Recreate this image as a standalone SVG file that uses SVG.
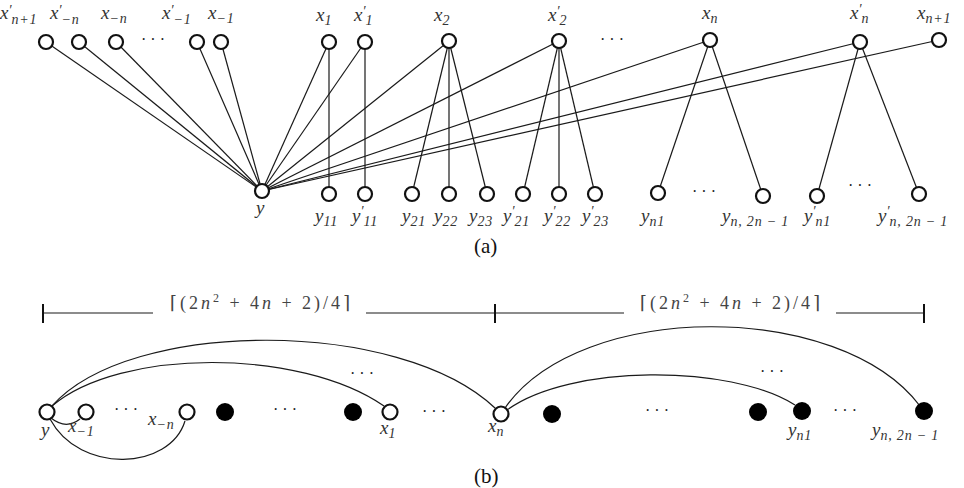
<svg xmlns="http://www.w3.org/2000/svg" width="964" height="488" viewBox="0 0 964 488">
<style>
.e{stroke:#1a1a1a;stroke-width:1.2;fill:none}
.o{fill:#fff;stroke:#111;stroke-width:2.2}
.f{fill:#000}
.t{font-family:"Liberation Serif",serif;font-style:italic;font-size:19px;fill:#333}
.s{font-size:14px;letter-spacing:0.8px}
.p{font-size:14px}
.d{font-family:"Liberation Serif",serif;font-size:16px;fill:#222;letter-spacing:4px}
.c{font-family:"Liberation Serif",serif;font-size:21px;fill:#111}
.m{font-family:"Liberation Serif","DejaVu Serif",serif;font-size:18px;fill:#444}
</style>
<rect width="964" height="488" fill="#fff"/>
<g id="connectors">
<line class="e" x1="262" y1="191" x2="46" y2="42"/>
<line class="e" x1="262" y1="191" x2="79" y2="42"/>
<line class="e" x1="262" y1="191" x2="116" y2="42"/>
<line class="e" x1="262" y1="191" x2="197" y2="42"/>
<line class="e" x1="262" y1="191" x2="221" y2="42"/>
<line class="e" x1="262" y1="191" x2="329" y2="42"/>
<line class="e" x1="262" y1="191" x2="365" y2="42"/>
<line class="e" x1="262" y1="191" x2="449" y2="41"/>
<line class="e" x1="262" y1="191" x2="559" y2="41"/>
<line class="e" x1="262" y1="191" x2="710" y2="40"/>
<line class="e" x1="262" y1="191" x2="860" y2="42"/>
<line class="e" x1="262" y1="191" x2="939" y2="40"/>
<line class="e" x1="329" y1="42" x2="329" y2="194"/>
<line class="e" x1="365" y1="42" x2="365" y2="194"/>
<line class="e" x1="449" y1="41" x2="412" y2="194"/>
<line class="e" x1="449" y1="41" x2="449" y2="194"/>
<line class="e" x1="449" y1="41" x2="487" y2="194"/>
<line class="e" x1="559" y1="41" x2="523" y2="194"/>
<line class="e" x1="559" y1="41" x2="559" y2="194"/>
<line class="e" x1="559" y1="41" x2="595" y2="194"/>
<line class="e" x1="710" y1="40" x2="658" y2="193"/>
<line class="e" x1="710" y1="40" x2="763" y2="196"/>
<line class="e" x1="860" y1="42" x2="817" y2="196"/>
<line class="e" x1="860" y1="42" x2="919" y2="194"/>
<path class="e" d="M52,406 C120,348 300,348 384,406"/>
<path class="e" d="M52,406 C130,318 400,318 495,408"/>
<path class="e" d="M505,408 C580,300 840,300 920,406"/>
<path class="e" d="M507,410 C570,364 730,364 795,405"/>
<path class="e" d="M51,418 Q66,430 80,419"/>
<path class="e" d="M50,419 C80,475 170,470 185,421"/>
</g>
<g id="nodes-a-top">
<g id="xp-n1"><circle class="o" cx="46" cy="42" r="7"/><text class="t" x="0" y="19">x<tspan class="p" dy="-4">′</tspan><tspan class="s" dy="9">n+1</tspan></text></g>
<g id="xp-mn"><circle class="o" cx="79" cy="42" r="7"/><text class="t" x="50" y="19">x<tspan class="p" dy="-4">′</tspan><tspan class="s" dy="9">−n</tspan></text></g>
<g id="x-mn"><circle class="o" cx="116" cy="42" r="7"/><text class="t" x="101" y="19">x<tspan class="s" dy="4">−n</tspan></text></g>
<text class="d" x="141" y="45">···</text>
<g id="xp-m1"><circle class="o" cx="197" cy="42" r="7"/><text class="t" x="162" y="19">x<tspan class="p" dy="-4">′</tspan><tspan class="s" dy="9">−1</tspan></text></g>
<g id="x-m1"><circle class="o" cx="221" cy="42" r="7"/><text class="t" x="208" y="19">x<tspan class="s" dy="4">−1</tspan></text></g>
<g id="x1"><circle class="o" cx="329" cy="42" r="7"/><text class="t" x="316" y="21">x<tspan class="s" dy="4">1</tspan></text></g>
<g id="xp1"><circle class="o" cx="365" cy="42" r="7"/><text class="t" x="354" y="21">x<tspan class="p" dy="-5">′</tspan><tspan class="s" dy="9">1</tspan></text></g>
<g id="x2"><circle class="o" cx="449" cy="41" r="7"/><text class="t" x="434" y="21">x<tspan class="s" dy="4">2</tspan></text></g>
<g id="xp2"><circle class="o" cx="559" cy="41" r="7"/><text class="t" x="548" y="21">x<tspan class="p" dy="-5">′</tspan><tspan class="s" dy="9">2</tspan></text></g>
<text class="d" x="600" y="45">···</text>
<g id="xn"><circle class="o" cx="710" cy="40" r="7"/><text class="t" x="702" y="19">x<tspan class="s" dy="4">n</tspan></text></g>
<g id="xpn"><circle class="o" cx="860" cy="42" r="7"/><text class="t" x="850" y="19">x<tspan class="p" dy="-5">′</tspan><tspan class="s" dy="9">n</tspan></text></g>
<g id="x-n1"><circle class="o" cx="939" cy="40" r="7"/><text class="t" x="917" y="19">x<tspan class="s" dy="4">n+1</tspan></text></g>
</g>
<g id="nodes-a-bottom">
<g id="y"><circle class="o" cx="262" cy="191" r="7"/><text class="t" x="256" y="214">y</text></g>
<g id="y11"><circle class="o" cx="329" cy="194" r="7"/><text class="t" x="315" y="222">y<tspan class="s" dy="4">11</tspan></text></g>
<g id="yp11"><circle class="o" cx="365" cy="194" r="7"/><text class="t" x="352" y="222">y<tspan class="p" dy="-6">′</tspan><tspan class="s" dy="10">11</tspan></text></g>
<g id="y21"><circle class="o" cx="412" cy="194" r="7"/><text class="t" x="402" y="222">y<tspan class="s" dy="4">21</tspan></text></g>
<g id="y22"><circle class="o" cx="449" cy="194" r="7"/><text class="t" x="434" y="222">y<tspan class="s" dy="4">22</tspan></text></g>
<g id="y23"><circle class="o" cx="487" cy="194" r="7"/><text class="t" x="469" y="222">y<tspan class="s" dy="4">23</tspan></text></g>
<g id="yp21"><circle class="o" cx="523" cy="194" r="7"/><text class="t" x="503" y="222">y<tspan class="p" dy="-6">′</tspan><tspan class="s" dy="10">21</tspan></text></g>
<g id="yp22"><circle class="o" cx="559" cy="194" r="7"/><text class="t" x="544" y="222">y<tspan class="p" dy="-6">′</tspan><tspan class="s" dy="10">22</tspan></text></g>
<g id="yp23"><circle class="o" cx="595" cy="194" r="7"/><text class="t" x="582" y="222">y<tspan class="p" dy="-6">′</tspan><tspan class="s" dy="10">23</tspan></text></g>
<g id="yn1"><circle class="o" cx="658" cy="193" r="7"/><text class="t" x="641" y="222">y<tspan class="s" dy="4">n1</tspan></text></g>
<text class="d" x="692" y="197">···</text>
<g id="yn2n"><circle class="o" cx="763" cy="196" r="7"/><text class="t" x="722" y="222">y<tspan class="s" dy="4">n, 2n − 1</tspan></text></g>
<g id="ypn1"><circle class="o" cx="817" cy="196" r="7"/><text class="t" x="804" y="222">y<tspan class="p" dy="-6">′</tspan><tspan class="s" dy="10">n1</tspan></text></g>
<text class="d" x="848" y="191">···</text>
<g id="ypn2n"><circle class="o" cx="919" cy="194" r="7"/><text class="t" x="878" y="222">y<tspan class="p" dy="-6">′</tspan><tspan class="s" dy="10">n, 2n − 1</tspan></text></g>
</g>
<text class="c" x="474" y="253">(a)</text>
<g id="scale">
<line class="e" x1="43" y1="313" x2="153" y2="313"/>
<line x1="43" y1="304" x2="43" y2="323" stroke="#111" stroke-width="2"/>
<line class="e" x1="366" y1="313" x2="624" y2="313"/>
<line x1="495" y1="304" x2="495" y2="323" stroke="#111" stroke-width="2"/>
<line class="e" x1="836" y1="313" x2="924" y2="313"/>
<line x1="924" y1="304" x2="924" y2="323" stroke="#111" stroke-width="2"/>
<text class="m" x="170" y="309" textLength="180" lengthAdjust="spacing">⌈(2<tspan font-style="italic">n</tspan><tspan font-size="12" dy="-7">2</tspan><tspan dy="7"> + 4</tspan><tspan font-style="italic">n</tspan> + 2)/4⌉</text>
<text class="m" x="640" y="309" textLength="180" lengthAdjust="spacing">⌈(2<tspan font-style="italic">n</tspan><tspan font-size="12" dy="-7">2</tspan><tspan dy="7"> + 4</tspan><tspan font-style="italic">n</tspan> + 2)/4⌉</text>
</g>
<g id="nodes-b">
<g id="b-y"><circle class="o" cx="47" cy="412" r="7.5"/><text class="t" x="41" y="436">y</text></g>
<g id="b-xm1"><circle class="o" cx="86" cy="412" r="7.5"/><text class="t" x="68" y="432">x<tspan class="s" dy="4">−1</tspan></text></g>
<text class="d" x="114" y="415">···</text>
<g id="b-xmn"><circle class="o" cx="187" cy="412" r="7.5"/><text class="t" x="148" y="425">x<tspan class="s" dy="4">−n</tspan></text></g>
<g id="b-f1"><circle class="f" cx="225" cy="412" r="9"/></g>
<text class="d" x="273" y="415">···</text>
<g id="b-f2"><circle class="f" cx="353" cy="412" r="9"/></g>
<g id="b-x1"><circle class="o" cx="390" cy="412" r="7.5"/><text class="t" x="380" y="434">x<tspan class="s" dy="4">1</tspan></text></g>
<text class="d" x="350" y="379">···</text>
<text class="d" x="422" y="417">···</text>
<g id="b-xn"><circle class="o" cx="501" cy="414" r="7.5"/><text class="t" x="488" y="432">x<tspan class="s" dy="4">n</tspan></text></g>
<g id="b-f3"><circle class="f" cx="552" cy="414" r="9"/></g>
<text class="d" x="645" y="416">···</text>
<g id="b-f4"><circle class="f" cx="758" cy="412" r="9"/></g>
<g id="b-yn1"><circle class="f" cx="802" cy="411" r="9"/><text class="t" x="788" y="436">y<tspan class="s" dy="4">n1</tspan></text></g>
<text class="d" x="760" y="377">···</text>
<text class="d" x="833" y="416">···</text>
<g id="b-yn2n"><circle class="f" cx="924" cy="411" r="9"/><text class="t" x="872" y="436">y<tspan class="s" dy="4">n, 2n − 1</tspan></text></g>
</g>
<text class="c" x="474" y="483">(b)</text>
</svg>
